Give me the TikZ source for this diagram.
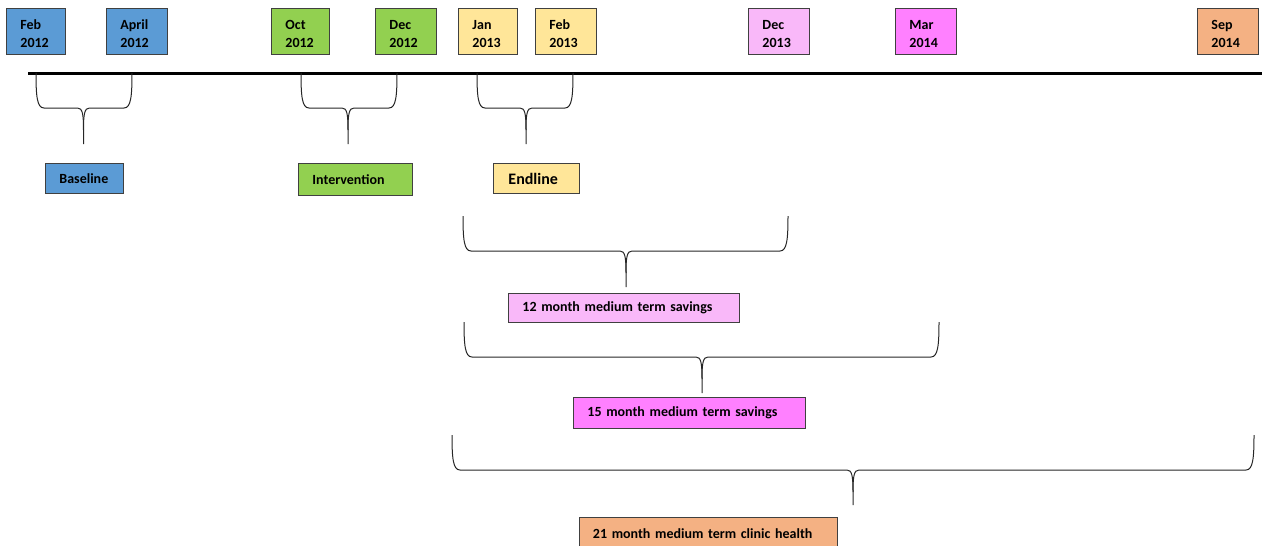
\documentclass[tikz,border=0pt]{standalone}
\usepackage{fontspec}
\setmainfont{Carlito}
\definecolor{cblue}{HTML}{5B9BD5}
\definecolor{cgreen}{HTML}{92D050}
\definecolor{cyellow}{HTML}{FFE699}
\definecolor{cpinkL}{HTML}{F9B8F9}
\definecolor{cpink}{HTML}{FF80FF}
\definecolor{corange}{HTML}{F4B183}
\definecolor{cborder}{HTML}{404040}
\tikzset{
  box/.style={draw=cborder, line width=0.9pt, inner ysep=0pt, inner xsep=14pt,
    align=left, font=\bfseries\fontsize{14}{17.5}\selectfont, anchor=north west},
  datebox/.style={box, minimum height=46pt},
  bracestyle/.style={draw=black!85, line width=1pt, line join=round}
}
\newcommand{\mybrace}[6]{%
  \draw[bracestyle] (#1,#4) .. controls (#1,{#5-12}) and ({#1+1},#5) .. ({#1+8},#5)
     -- ({#3-6},#5) .. controls ({#3-1},#5) and (#3,{#5+6}) .. (#3,{#5+22}) -- (#3,#6);
  \draw[bracestyle] (#2,#4) .. controls (#2,{#5-12}) and ({#2-1},#5) .. ({#2-8},#5)
     -- ({#3+6},#5) .. controls ({#3+1},#5) and (#3,{#5+6}) .. (#3,{#5+22});
}
\newcommand{\fl}{\rule{0pt}{15.5pt}}
\begin{document}
\begin{tikzpicture}[x=1pt,y=-1pt]
\useasboundingbox (0,0) rectangle (1262,546);
% date boxes
\node[datebox, fill=cblue,   text width=31pt] (feb12) at (6,7.5)    {\fl Feb\\2012};
\node[datebox, fill=cblue,   text width=33pt] (apr12) at (106,7.5)  {\fl April\\2012};
\node[datebox, fill=cgreen,  text width=30pt] (oct12) at (271,7.5)  {\fl Oct\\2012};
\node[datebox, fill=cgreen,  text width=33pt] (dec12) at (375,7.5)  {\fl Dec\\2012};
\node[datebox, fill=cyellow, text width=31pt] (jan13) at (458,7.5)  {\fl Jan\\2013};
\node[datebox, fill=cyellow, text width=33pt] (feb13) at (535,7.5)  {\fl Feb\\2013};
\node[datebox, fill=cpinkL,  text width=33pt] (dec13) at (748,7.5)  {\fl Dec\\2013};
\node[datebox, fill=cpink,   text width=33pt] (mar14) at (895,7.5)  {\fl Mar\\2014};
\node[datebox, fill=corange, text width=33pt] (sep14) at (1197,7.5) {\fl Sep\\2014};
% timeline
\coordinate (tlA) at (28,73);
\coordinate (tlB) at (1262,73);
\draw[line width=3pt, black] (tlA) -- (tlB);
% braces
\mybrace{36}{132}{83.5}{73}{108}{144}
\mybrace{301}{397}{348}{73}{108}{144}
\mybrace{477}{573}{526}{73}{108}{144}
\mybrace{463}{788}{626}{216}{251}{287}
\mybrace{464}{939}{702}{322}{357}{393}
\mybrace{452}{1254}{853}{435}{470}{505}
% label boxes
\node[box, fill=cblue,   text width=50pt,  minimum height=30pt] (base)  at (45,163)  {Baseline};
\node[box, fill=cgreen,  text width=86pt,  minimum height=32pt] (inter) at (298,163) {Intervention};
\node[box, fill=cyellow, text width=56pt,  minimum height=30pt, inner xsep=15pt, font=\bfseries\fontsize{16}{19}\selectfont] (endl) at (493,163) {Endline};
\node[box, fill=cpinkL,  text width=203pt, minimum height=29pt] (m12) at (508,293) {12 month medium term savings};
\node[box, fill=cpink,   text width=204pt, minimum height=31pt] (m15) at (573,397) {15 month medium term savings};
\node[box, fill=corange, text width=230pt, minimum height=32pt] (m21) at (578.5,517) {21 month medium term clinic health};
\end{tikzpicture}
\end{document}
